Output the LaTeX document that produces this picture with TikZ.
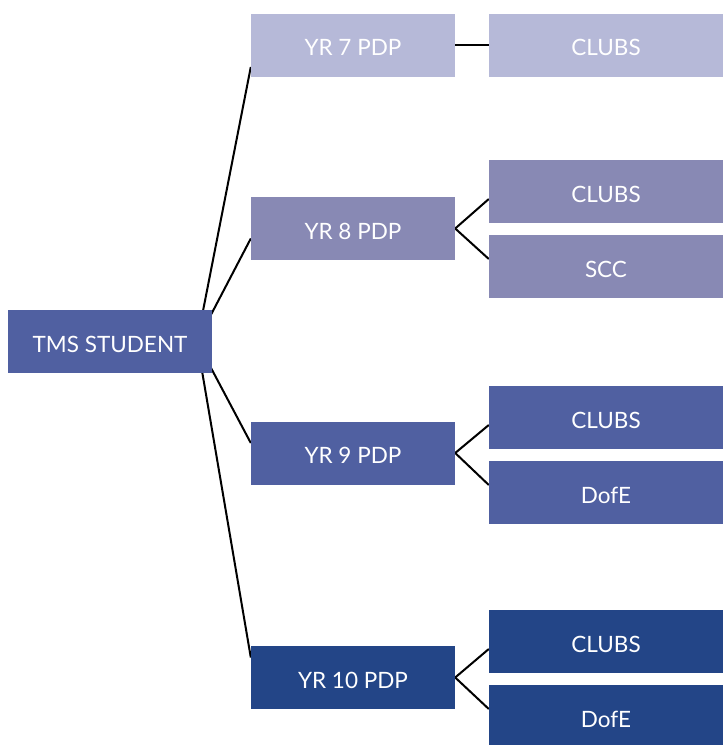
\documentclass[tikz,border=0pt]{standalone}
\usepackage{fontspec}
\setmainfont{Lato}
\usetikzlibrary{backgrounds}

\definecolor{rowA}{HTML}{B6B9D8}
\definecolor{rowB}{HTML}{8889B4}
\definecolor{rowC}{HTML}{5060A1}
\definecolor{rowD}{HTML}{234587}

\tikzset{
	box/.style={fill=#1, text=white, inner sep=0pt, minimum height=63pt,
		text height=21pt, text depth=0pt,
		font=\fontsize{22.5pt}{26pt}\selectfont},
	yrbox/.style={box=#1, minimum width=204pt},
	actbox/.style={box=#1, minimum width=234pt},
	link/.style={draw=black, line width=2pt}
}

\begin{document}
\begin{tikzpicture}[x=1pt, y=-1pt]
	\useasboundingbox (0,0) rectangle (723,745);

	\node [yrbox=rowC] (root) at (110,341.5) {TMS STUDENT};
	\coordinate (hub) at (197,341.5);

	\node [yrbox=rowA] (yr7)  at (353,45)    {YR 7 PDP};
	\node [yrbox=rowB] (yr8)  at (353,228.5) {YR 8 PDP};
	\node [yrbox=rowC] (yr9)  at (353,453)   {YR 9 PDP};
	\node [yrbox=rowD] (yr10) at (353,677.5) {YR 10 PDP};

	\node [actbox=rowA] (clubs7)  at (606,45)    {CLUBS};
	\node [actbox=rowB] (clubs8)  at (606,191.5) {CLUBS};
	\node [actbox=rowB] (scc8)    at (606,266.5) {SCC};
	\node [actbox=rowC] (clubs9)  at (606,417.5) {CLUBS};
	\node [actbox=rowC] (dofe9)   at (606,492.5) {DofE};
	\node [actbox=rowD] (clubs10) at (606,641.5) {CLUBS};
	\node [actbox=rowD] (dofe10)  at (606,716.5) {DofE};

	\begin{pgfonlayer}{background}
	\path [link]
	(hub) edge ([yshift=-22pt]yr7.west)
	(hub) edge ([yshift=-10pt]yr8.west)
	(hub) edge ([yshift=10pt]yr9.west)
	(hub) edge ([yshift=20pt]yr10.west)
	(yr7.east) edge (clubs7.west)
	(yr8.east) edge ([yshift=-7.5pt]clubs8.west)
	(yr8.east) edge ([yshift=7.5pt]scc8.west)
	(yr9.east) edge ([yshift=-7.5pt]clubs9.west)
	(yr9.east) edge ([yshift=7.5pt]dofe9.west)
	(yr10.east) edge ([yshift=-7.5pt]clubs10.west)
	(yr10.east) edge ([yshift=7.5pt]dofe10.west);
	\end{pgfonlayer}
\end{tikzpicture}
\end{document}
